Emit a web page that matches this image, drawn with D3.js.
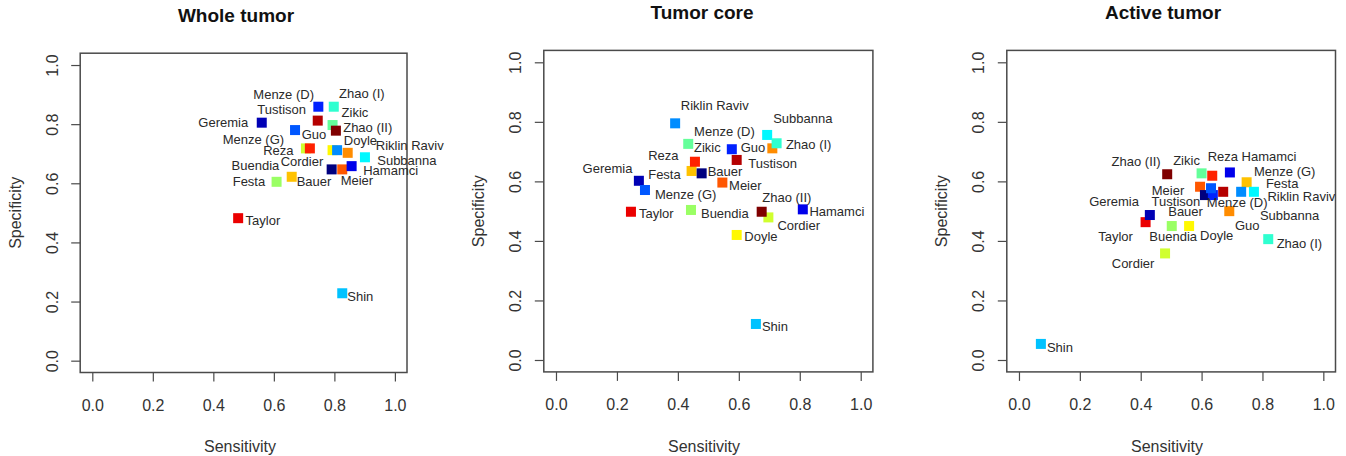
<!DOCTYPE html>
<html><head><meta charset="utf-8">
<script src="https://cdn.jsdelivr.net/npm/d3@7"></script>
<style>
body{margin:0;background:#fff}
svg{display:block}
text{font-family:"Liberation Sans",Arial,Helvetica,sans-serif}
</style>
</head><body>
<svg id="chart" width="1346" height="456"></svg>
<script>
// ---------------- data ----------------
const names = ["Bauer","Geremia","Hamamci","Menze (D)","Menze (G)","Riklin Raviv","Shin","Subbanna","Zhao (I)","Zikic",
               "Buendia","Cordier","Doyle","Festa","Guo","Meier","Reza","Taylor","Tustison","Zhao (II)"];
const titles = ["Whole tumor","Tumor core","Active tumor"];
const tickValues = [0,0.2,0.4,0.6,0.8,1.0];
const tickLabels = ["0.0","0.2","0.4","0.6","0.8","1.0"];
const xTitle = "Sensitivity";
const yTitle = "Specificity";

const wholeSens = [0.791,0.560,0.857,0.747,0.670,0.809,0.826,0.901,0.798,0.794,0.609,0.706,0.794,0.659,0.844,0.826,0.719,0.482,0.745,0.805];
const wholeSpec = [0.647,0.805,0.658,0.859,0.780,0.712,0.228,0.688,0.859,0.797,0.605,0.718,0.712,0.622,0.703,0.647,0.718,0.482,0.812,0.778];

const coreSens = [0.478,0.272,0.810,0.577,0.292,0.391,0.656,0.693,0.724,0.434,0.443,0.697,0.593,0.445,0.710,0.546,0.456,0.246,0.593,0.675];
const coreSpec = [0.627,0.602,0.506,0.708,0.571,0.795,0.121,0.756,0.728,0.726,0.504,0.479,0.420,0.635,0.711,0.596,0.666,0.498,0.672,0.498];

const activeSens = [0.611,0.430,0.693,0.637,0.631,0.730,0.072,0.772,0.819,0.600,0.502,0.480,0.559,0.748,0.691,0.595,0.635,0.416,0.671,0.487];
const activeSpec = [0.554,0.487,0.630,0.554,0.577,0.565,0.054,0.565,0.406,0.627,0.450,0.358,0.450,0.597,0.500,0.582,0.619,0.463,0.565,0.624];

// ---------------- layout / label placement (pixels) ----------------
const wholeLabelDx = [-35,-63.4,11.6,-65,-72.3,38.7,5,12.3,5.3,9,-45,-25.3,11.3,-59,-46,-1.6,-46.7,7.4,-60.4,7.3];
const wholeLabelDy = [12.4,-0.4,4,-12.7,9.3,-4.3,2.7,2.7,-13.4,-12.3,-16.7,13.4,-9.3,5,-18.7,11.4,1.7,2.4,-10.7,-3];
const coreLabelDx = [6,-56.3,6.6,-37.7,10,5.7,6,6,9.3,5.7,10,9,7.6,-43.4,-31.6,6.7,-46.7,8,11.6,0.6];
const coreLabelDy = [-2.3,-12.4,2.4,-17.6,4.3,-17.6,2.5,-16,1,3.3,3.3,7.7,1.7,3.3,-0.6,3,-6,1.6,4,-14.4];
const activeLabelDx = [-36.7,-60.7,11.7,-6,43,26.3,6,6,8.4,-28.4,-22.4,-53.3,11,19.3,5.7,-48.3,-4.6,-47.4,-71.6,-55.6];
const activeLabelDy = [16,-14,-15.6,7.7,-16.6,5,3.5,23.3,4.3,-13.3,10.7,10,9,1,14,3.3,-19,14.4,9.3,-12.6];

// stacking order of the squares (indices into names)
const drawOrder = [10,11,12,13,14,15,16,17,18,0,1,2,3,4,5,6,7,8,9,19];

const panelBoxes = [
  {left:80.2,  right:407.0,  top:53.2, bottom:372.5, titleX:236,  titleY:21.5, sensX:240},
  {left:543.8, right:872.9,  top:50.4, bottom:371.9, titleX:702,  titleY:18.5, sensX:704},
  {left:1006.8,right:1335.5, top:50.4, bottom:371.9, titleX:1163, titleY:18.5, sensX:1167}
];

const panelData = [
  {sens:wholeSens, spec:wholeSpec, dx:wholeLabelDx, dy:wholeLabelDy},
  {sens:coreSens, spec:coreSpec, dx:coreLabelDx, dy:coreLabelDy},
  {sens:activeSens, spec:activeSpec, dx:activeLabelDx, dy:activeLabelDy}
];

// jet-like palette (same as R colorRampPalette)
const jet = d3.piecewise(d3.interpolateRgb, ["#00007F","#0000FF","#007FFF","#00FFFF","#7FFF7F","#FFFF00","#FF7F00","#FF0000","#7F0000"]);
const colorOf = i => jet(i / (names.length - 1));

const svg = d3.select("#chart");
const boxColor = "#4a4a4a";
const textColor = "#2a2a2a";
const sq = 10;

panelBoxes.forEach((b, p) => {
  const data = panelData[p];
  const x = d3.scaleLinear().domain([-0.04, 1.04]).range([b.left, b.right]);
  const y = d3.scaleLinear().domain([-0.04, 1.04]).range([b.bottom, b.top]);
  const g = svg.append("g");

  // title
  g.append("text").attr("x", b.titleX).attr("y", b.titleY)
    .attr("text-anchor","middle").attr("font-size", 19).attr("font-weight","bold")
    .attr("fill","#111").text(titles[p]);

  // x axis
  const xa = g.append("g").attr("transform", `translate(0,${b.bottom})`)
    .call(d3.axisBottom(x).tickValues(tickValues).tickFormat((d,i)=>tickLabels[i]).tickSize(9).tickPadding(18));
  xa.select(".domain").remove();
  xa.selectAll("line").attr("stroke", boxColor).attr("stroke-width", 1.2);
  xa.selectAll("text").attr("font-size", 16).attr("fill", "#333").attr("font-family",'"Liberation Sans",Arial,sans-serif');

  // y axis
  const ya = g.append("g").attr("transform", `translate(${b.left},0)`)
    .call(d3.axisLeft(y).tickValues(tickValues).tickFormat((d,i)=>tickLabels[i]).tickSize(9));
  ya.select(".domain").remove();
  ya.selectAll("line").attr("stroke", boxColor).attr("stroke-width", 1.2);
  ya.selectAll("text").attr("x", null).attr("dy", "0.35em")
    .attr("transform", "translate(-28,0) rotate(-90)")
    .attr("text-anchor","middle")
    .attr("font-size", 16).attr("fill", "#333").attr("font-family",'"Liberation Sans",Arial,sans-serif');

  // box
  g.append("rect").attr("x", b.left).attr("y", b.top)
    .attr("width", b.right - b.left).attr("height", b.bottom - b.top)
    .attr("fill","none").attr("stroke", boxColor).attr("stroke-width", 1.5);

  // axis titles
  g.append("text").attr("x", b.sensX).attr("y", 451.5).attr("text-anchor","middle")
    .attr("font-size", 16).attr("fill","#333").text(xTitle);
  g.append("text").attr("transform", `translate(${b.left - 65},${(b.top + b.bottom)/2}) rotate(-90)`)
    .attr("dy","0.35em").attr("text-anchor","middle")
    .attr("font-size", 16).attr("fill","#333").text(yTitle);

  // points
  g.append("g").selectAll("rect").data(drawOrder).join("rect")
    .attr("x", i => x(data.sens[i]) - sq/2)
    .attr("y", i => y(data.spec[i]) - sq/2)
    .attr("width", sq).attr("height", sq)
    .attr("fill", i => colorOf(i));

  // labels
  g.append("g").selectAll("text").data(d3.range(names.length)).join("text")
    .attr("x", i => x(data.sens[i]) + data.dx[i])
    .attr("y", i => y(data.spec[i]) + data.dy[i])
    .attr("dy","0.35em")
    .attr("font-size", 13).attr("fill", textColor)
    .text(i => names[i]);
});
</script>
</body></html>
